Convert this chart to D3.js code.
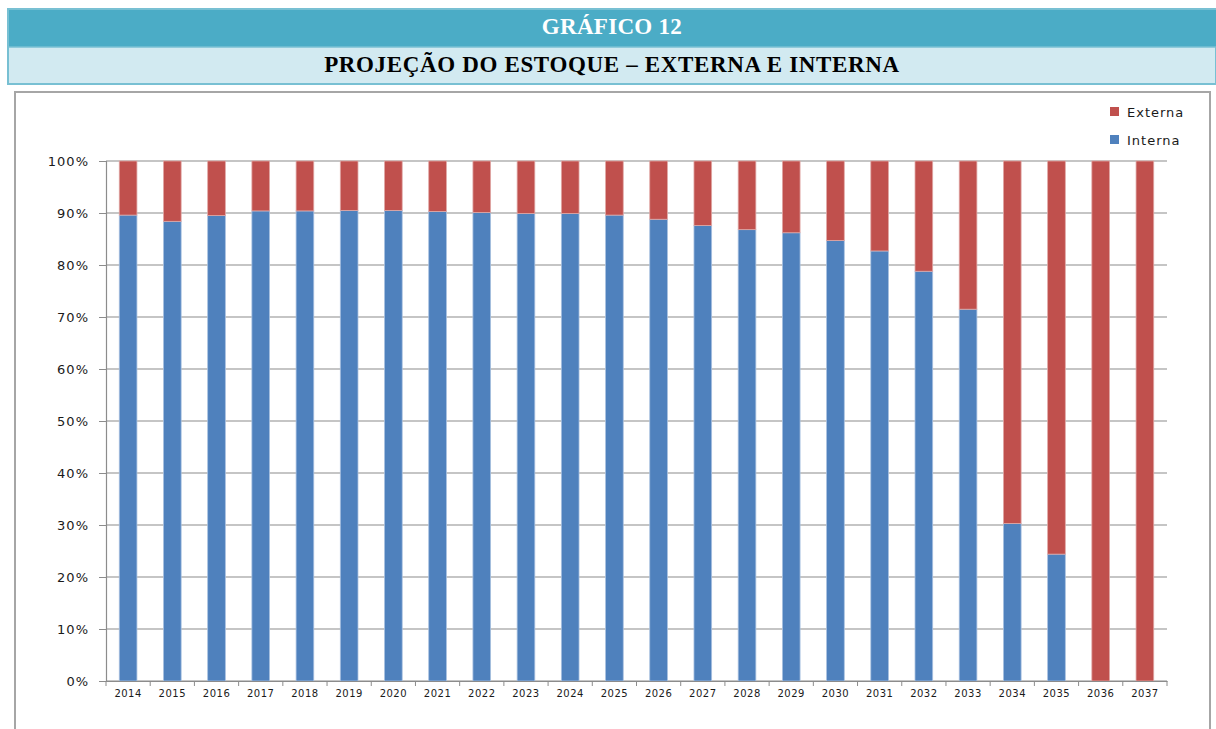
<!DOCTYPE html>
<html>
<head>
<meta charset="utf-8">
<script src="https://cdn.jsdelivr.net/npm/d3@7"></script>
<style>
  body { margin: 0; background: #fff; }
</style>
</head>
<body>
<script>
// data (% of stock)
var years = ["2014","2015","2016","2017","2018","2019","2020","2021","2022","2023","2024","2025",
             "2026","2027","2028","2029","2030","2031","2032","2033","2034","2035","2036","2037"];
var interna = [89.6, 88.4, 89.5, 90.4, 90.4, 90.5, 90.5, 90.3, 90.1, 89.9, 89.9, 89.6,
               88.8, 87.6, 86.8, 86.2, 84.7, 82.7, 78.8, 71.5, 30.3, 24.4, 0, 0];
var externa = [10.4, 11.6, 10.5, 9.6, 9.6, 9.5, 9.5, 9.7, 9.9, 10.1, 10.1, 10.4,
               11.2, 12.4, 13.2, 13.8, 15.3, 17.3, 21.2, 28.5, 69.7, 75.6, 100, 100];
var yTicks = [0, 0.1, 0.2, 0.3, 0.4, 0.5, 0.6, 0.7, 0.8, 0.9, 1];

var W = 1216, H = 729;
var svg = d3.select("body").append("svg")
    .attr("width", W).attr("height", H);

// header banner
svg.append("rect").attr("x", 8).attr("y", 9).attr("width", W - 8).attr("height", 75)
    .attr("fill", "#d2eaf1").attr("stroke", "#78c0d3").attr("stroke-width", 2);
svg.append("rect").attr("x", 9).attr("y", 10).attr("width", W - 9).attr("height", 37)
    .attr("fill", "#4bacc6");
svg.append("line").attr("x1", 8).attr("x2", W).attr("y1", 47).attr("y2", 47)
    .attr("stroke", "#78c0d3").attr("stroke-width", 1.5);
svg.append("text").attr("x", 612).attr("y", 34).attr("text-anchor", "middle")
    .attr("font-family", "Liberation Serif").attr("font-weight", "bold")
    .attr("font-size", 23).attr("letter-spacing", 0.3).attr("fill", "#fff").text("GRÁFICO 12");
svg.append("text").attr("x", 612).attr("y", 72).attr("text-anchor", "middle")
    .attr("font-family", "Liberation Serif").attr("font-weight", "bold")
    .attr("font-size", 23).attr("letter-spacing", 0.65).attr("fill", "#000")
    .text("PROJEÇÃO DO ESTOQUE – EXTERNA E INTERNA");

// chart frame
svg.append("rect").attr("x", 15).attr("y", 92).attr("width", 1195).attr("height", 700)
    .attr("fill", "#fff").attr("stroke", "#a6a6a6").attr("stroke-width", 2);

var margin = { left: 106, right: 49, top: 161, bottom: 48 };
var width = W - margin.left - margin.right,
    height = H - margin.top - margin.bottom;

var g = svg.append("g").attr("transform", "translate(" + margin.left + "," + margin.top + ")");

var x = d3.scaleBand().domain(years).range([0, width])
    .paddingInner(0.6).paddingOuter(0.3);
var y = d3.scaleLinear().domain([0, 1]).range([height, 0]);

var rows = years.map(function(yr, i) {
  return { year: yr, Interna: interna[i], Externa: externa[i] };
});
var stack = d3.stack().keys(["Interna", "Externa"]).offset(d3.stackOffsetExpand);
var series = stack(rows);
var color = { Interna: "#4f81bd", Externa: "#c0504d" };

// gridlines
g.append("g").selectAll("line").data(yTicks).enter().append("line")
    .attr("x1", 0).attr("x2", width)
    .attr("y1", function(d) { return y(d); }).attr("y2", function(d) { return y(d); })
    .attr("stroke", "#8c8c8c").attr("stroke-width", 1.2);

// bars
g.append("g").selectAll("g").data(series).enter().append("g")
    .attr("fill", function(s) { return color[s.key]; })
    .attr("stroke", function(s) { return s.key == "Interna" ? "#a9c1e0" : "#e0a8a6"; })
    .attr("stroke-width", 0.8)
  .selectAll("rect").data(function(s) { return s; }).enter().append("rect")
    .attr("x", function(d) { return x(d.data.year); })
    .attr("width", x.bandwidth())
    .attr("y", function(d) { return y(d[1]); })
    .attr("height", function(d) { return y(d[0]) - y(d[1]); });

// y axis
var yAxis = g.append("g")
    .call(d3.axisLeft(y).tickValues(yTicks).tickFormat(d3.format(".0%")).tickSize(7).tickPadding(10));
yAxis.select(".domain").attr("stroke", "#8c8c8c").attr("stroke-width", 1.2);
yAxis.selectAll(".tick line").attr("stroke", "#8c8c8c");
yAxis.selectAll("text").attr("font-family", "DejaVu Sans").attr("font-size", 13)
    .attr("letter-spacing", 1).attr("fill", "#1a1a1a");

// x axis
var xAxis = g.append("g").attr("transform", "translate(0," + height + ")")
    .call(d3.axisBottom(x).tickSize(0).tickPadding(9));
xAxis.select(".domain").attr("stroke", "#8c8c8c").attr("stroke-width", 1.2);
xAxis.selectAll("text").attr("font-family", "DejaVu Sans").attr("font-size", 10)
    .attr("letter-spacing", 0.5).attr("fill", "#1a1a1a");
// ticks between categories
var bounds = years.map(function(yr) { return x(yr) - x.step() * x.paddingInner() / 2; });
bounds.push(width);
xAxis.append("g").selectAll("line").data(bounds).enter().append("line")
    .attr("x1", function(d) { return d; }).attr("x2", function(d) { return d; })
    .attr("y1", 0).attr("y2", 5).attr("stroke", "#8c8c8c");

// legend
var legend = svg.append("g").attr("transform", "translate(1110,107)");
var legItems = legend.selectAll("g").data(["Externa", "Interna"]).enter().append("g")
    .attr("transform", function(d, i) { return "translate(0," + i * 28 + ")"; });
legItems.append("rect").attr("width", 9).attr("height", 9)
    .attr("fill", function(d) { return color[d]; });
legItems.append("text").attr("x", 17).attr("y", 9.5)
    .attr("font-family", "DejaVu Sans").attr("font-size", 13).attr("letter-spacing", 1)
    .attr("fill", "#1a1a1a")
    .text(function(d) { return d; });
</script>
</body>
</html>
